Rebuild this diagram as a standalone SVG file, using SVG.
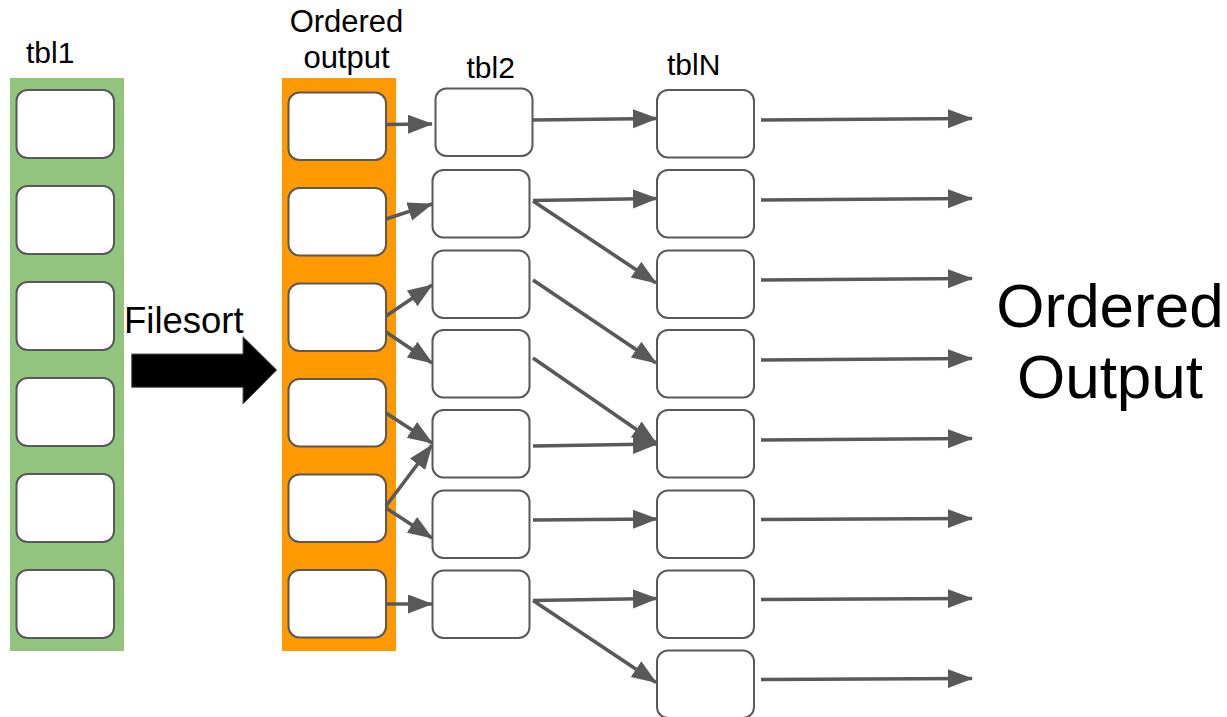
<svg xmlns="http://www.w3.org/2000/svg" width="1227" height="717" viewBox="0 0 1227 717">
<style>
.box{fill:#fff;stroke:#595959;stroke-width:2}
.lbl{font-family:"Liberation Sans",Arial,sans-serif;fill:#000}
.c{fill:none;stroke:#595959;stroke-width:3.6;marker-end:url(#ah)}
</style>
<defs>
<marker id="ah" markerUnits="userSpaceOnUse" markerWidth="26" markerHeight="20" refX="24" refY="9.5" orient="auto">
<path d="M0,0 L25,9.5 L0,19 Z" fill="#595959"/>
</marker>
</defs>
<rect width="1227" height="717" fill="#fff"/>
<g id="tbl1">
<rect x="10" y="78" width="114" height="573" fill="#93c47d"/>
<text class="lbl" x="26" y="63" font-size="30">tbl1</text>
<rect class="box" x="16.5" y="90" width="97.5" height="68" rx="11"/>
<rect class="box" x="16.5" y="186" width="97.5" height="68" rx="11"/>
<rect class="box" x="16.5" y="282" width="97.5" height="68" rx="11"/>
<rect class="box" x="16.5" y="378" width="97.5" height="68" rx="11"/>
<rect class="box" x="16.5" y="474" width="97.5" height="68" rx="11"/>
<rect class="box" x="16.5" y="570" width="97.5" height="68" rx="11"/>
</g>
<g id="filesort">
<text class="lbl" x="124" y="333" font-size="36.5">Filesort</text>
<polygon points="131.7,354 243,354 243,336.7 276.7,370 243,404 243,387.3 131.7,387.3" fill="#000" stroke="#595959" stroke-width="1"/>
</g>
<g id="ordered">
<rect x="282" y="78" width="114" height="573" fill="#ff9900"/>
<text class="lbl" x="346.5" y="32" font-size="31" text-anchor="middle">Ordered</text>
<text class="lbl" x="346.5" y="67.5" font-size="31" text-anchor="middle">output</text>
<rect class="box" x="288.5" y="92.5" width="97.5" height="67.5" rx="11"/>
<rect class="box" x="288.5" y="188" width="97.5" height="67.5" rx="11"/>
<rect class="box" x="288.5" y="283.5" width="97.5" height="67.5" rx="11"/>
<rect class="box" x="288.5" y="379" width="97.5" height="67.5" rx="11"/>
<rect class="box" x="288.5" y="474.5" width="97.5" height="67.5" rx="11"/>
<rect class="box" x="288.5" y="570" width="97.5" height="67.5" rx="11"/>
</g>
<g id="tbl2">
<text class="lbl" x="466.5" y="78" font-size="30">tbl2</text>
<rect class="box" x="435.5" y="88.5" width="97" height="67.5" rx="11"/>
<rect class="box" x="432.5" y="170" width="97" height="67.5" rx="11"/>
<rect class="box" x="432.5" y="250.5" width="97" height="67.5" rx="11"/>
<rect class="box" x="432.5" y="330" width="97" height="67.5" rx="11"/>
<rect class="box" x="432.5" y="410" width="97" height="67.5" rx="11"/>
<rect class="box" x="432.5" y="490.5" width="97" height="67.5" rx="11"/>
<rect class="box" x="432.5" y="570.5" width="97" height="67.5" rx="11"/>
</g>
<g id="tblN">
<text class="lbl" x="667" y="75" font-size="30">tblN</text>
<rect class="box" x="657" y="90" width="97" height="67.5" rx="11"/>
<rect class="box" x="657" y="170" width="97" height="67.5" rx="11"/>
<rect class="box" x="657" y="250.5" width="97" height="67.5" rx="11"/>
<rect class="box" x="657" y="330" width="97" height="67.5" rx="11"/>
<rect class="box" x="657" y="410" width="97" height="67.5" rx="11"/>
<rect class="box" x="657" y="490.5" width="97" height="67.5" rx="11"/>
<rect class="box" x="657" y="570.5" width="97" height="67.5" rx="11"/>
<rect class="box" x="657" y="650.5" width="97" height="67.5" rx="11"/>
</g>
<g id="output-label">
<text class="lbl" x="1110" y="327" font-size="62" text-anchor="middle">Ordered</text>
<text class="lbl" x="1110" y="398" font-size="62" text-anchor="middle">Output</text>
</g>
<g id="connectors">
<line class="c" x1="386" y1="124.5" x2="432" y2="124"/>
<line class="c" x1="386" y1="219" x2="432" y2="204"/>
<line class="c" x1="386" y1="316" x2="432" y2="285"/>
<line class="c" x1="386" y1="332" x2="432" y2="363"/>
<line class="c" x1="386" y1="413" x2="432" y2="443"/>
<line class="c" x1="386" y1="506" x2="432" y2="445"/>
<line class="c" x1="386" y1="508" x2="432" y2="538"/>
<line class="c" x1="386" y1="604" x2="432" y2="604"/>
<line class="c" x1="533" y1="120" x2="657" y2="118.5"/>
<line class="c" x1="533" y1="200.5" x2="657" y2="198.5"/>
<line class="c" x1="533" y1="201" x2="656" y2="283"/>
<line class="c" x1="533" y1="280" x2="656" y2="363"/>
<line class="c" x1="533" y1="358" x2="656" y2="443"/>
<line class="c" x1="533" y1="446" x2="657" y2="444"/>
<line class="c" x1="533" y1="520" x2="657" y2="519"/>
<line class="c" x1="533" y1="600.5" x2="657" y2="598.5"/>
<line class="c" x1="533" y1="600.5" x2="656" y2="682.5"/>
<line class="c" x1="761" y1="120" x2="972" y2="118.5"/>
<line class="c" x1="761" y1="200" x2="972" y2="198.5"/>
<line class="c" x1="761" y1="280" x2="972" y2="278.5"/>
<line class="c" x1="761" y1="360" x2="972" y2="358.5"/>
<line class="c" x1="761" y1="440" x2="972" y2="438.5"/>
<line class="c" x1="761" y1="519.5" x2="972" y2="518.5"/>
<line class="c" x1="761" y1="599.5" x2="972" y2="598.5"/>
<line class="c" x1="761" y1="679.5" x2="972" y2="678.5"/>
</g>
</svg>
